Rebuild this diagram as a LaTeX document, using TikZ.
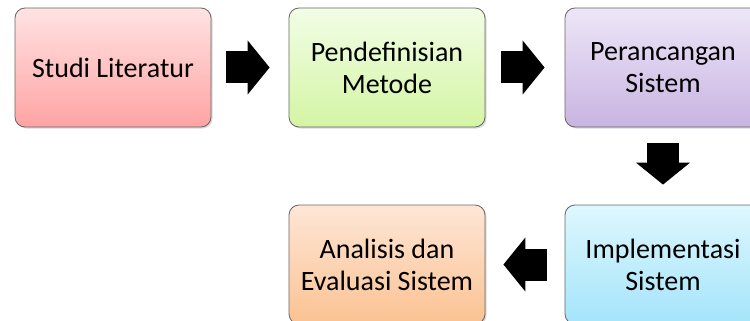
\documentclass[tikz,border=0pt]{standalone}
\usepackage{fontspec}
\setmainfont{Carlito}
\usetikzlibrary{shapes,shadows,arrows.meta}

\definecolor{redtop}{HTML}{FFE3E3}
\definecolor{redbot}{HTML}{FFA3A3}
\definecolor{greentop}{HTML}{F2FDE6}
\definecolor{greenbot}{HTML}{D4F5A4}
\definecolor{purpletop}{HTML}{EDE6F7}
\definecolor{purplebot}{HTML}{C9B4E2}
\definecolor{cyantop}{HTML}{DEF7FE}
\definecolor{cyanbot}{HTML}{A4E4FA}
\definecolor{orangetop}{HTML}{FEE6D6}
\definecolor{orangebot}{HTML}{FBC292}

\tikzset{
  stepbox/.style={draw=black!60, line width=0.8pt, rounded corners=10pt,
    minimum width=196pt, minimum height=119pt, align=center,
    font=\fontsize{28}{32}\selectfont,
    drop shadow={opacity=0.3,shadow xshift=1.5pt,shadow yshift=-1.5pt}},
  blockarrow/.style={line width=32pt, -{Triangle[width=53pt,length=22pt]}}
}

\begin{document}
\begin{tikzpicture}[x=1pt,y=-1pt]
\useasboundingbox (0,0) rectangle (750,321);
\clip (0,0) rectangle (750,321);

\node[stepbox, top color=redtop, bottom color=redbot] (lit) at (113,67.5) {Studi Literatur};
\node[stepbox, top color=greentop, bottom color=greenbot] (def) at (387,67.5) {Pendefinisian\\Metode};
\node[stepbox, top color=purpletop, bottom color=purplebot] (des) at (663,67.5) {Perancangan\\Sistem};
\node[stepbox, top color=cyantop, bottom color=cyanbot] (imp) at (663,264.5) {Implementasi\\Sistem};
\node[stepbox, top color=orangetop, bottom color=orangebot] (ana) at (387,264.5) {Analisis dan\\Evaluasi Sistem};

\draw[blockarrow, shorten <=15pt, shorten >=19pt] (lit) -- (def); % literatur - metode
\draw[blockarrow, shorten <=16pt, shorten >=20pt] (def) -- (des); % metode - perancangan
\draw[blockarrow, shorten <=16pt, shorten >=20pt] (des) -- (imp); % perancangan - implementasi
\draw[blockarrow, shorten <=18pt, shorten >=18pt] (imp) -- (ana); % implementasi - evaluasi

\end{tikzpicture}
\end{document}
